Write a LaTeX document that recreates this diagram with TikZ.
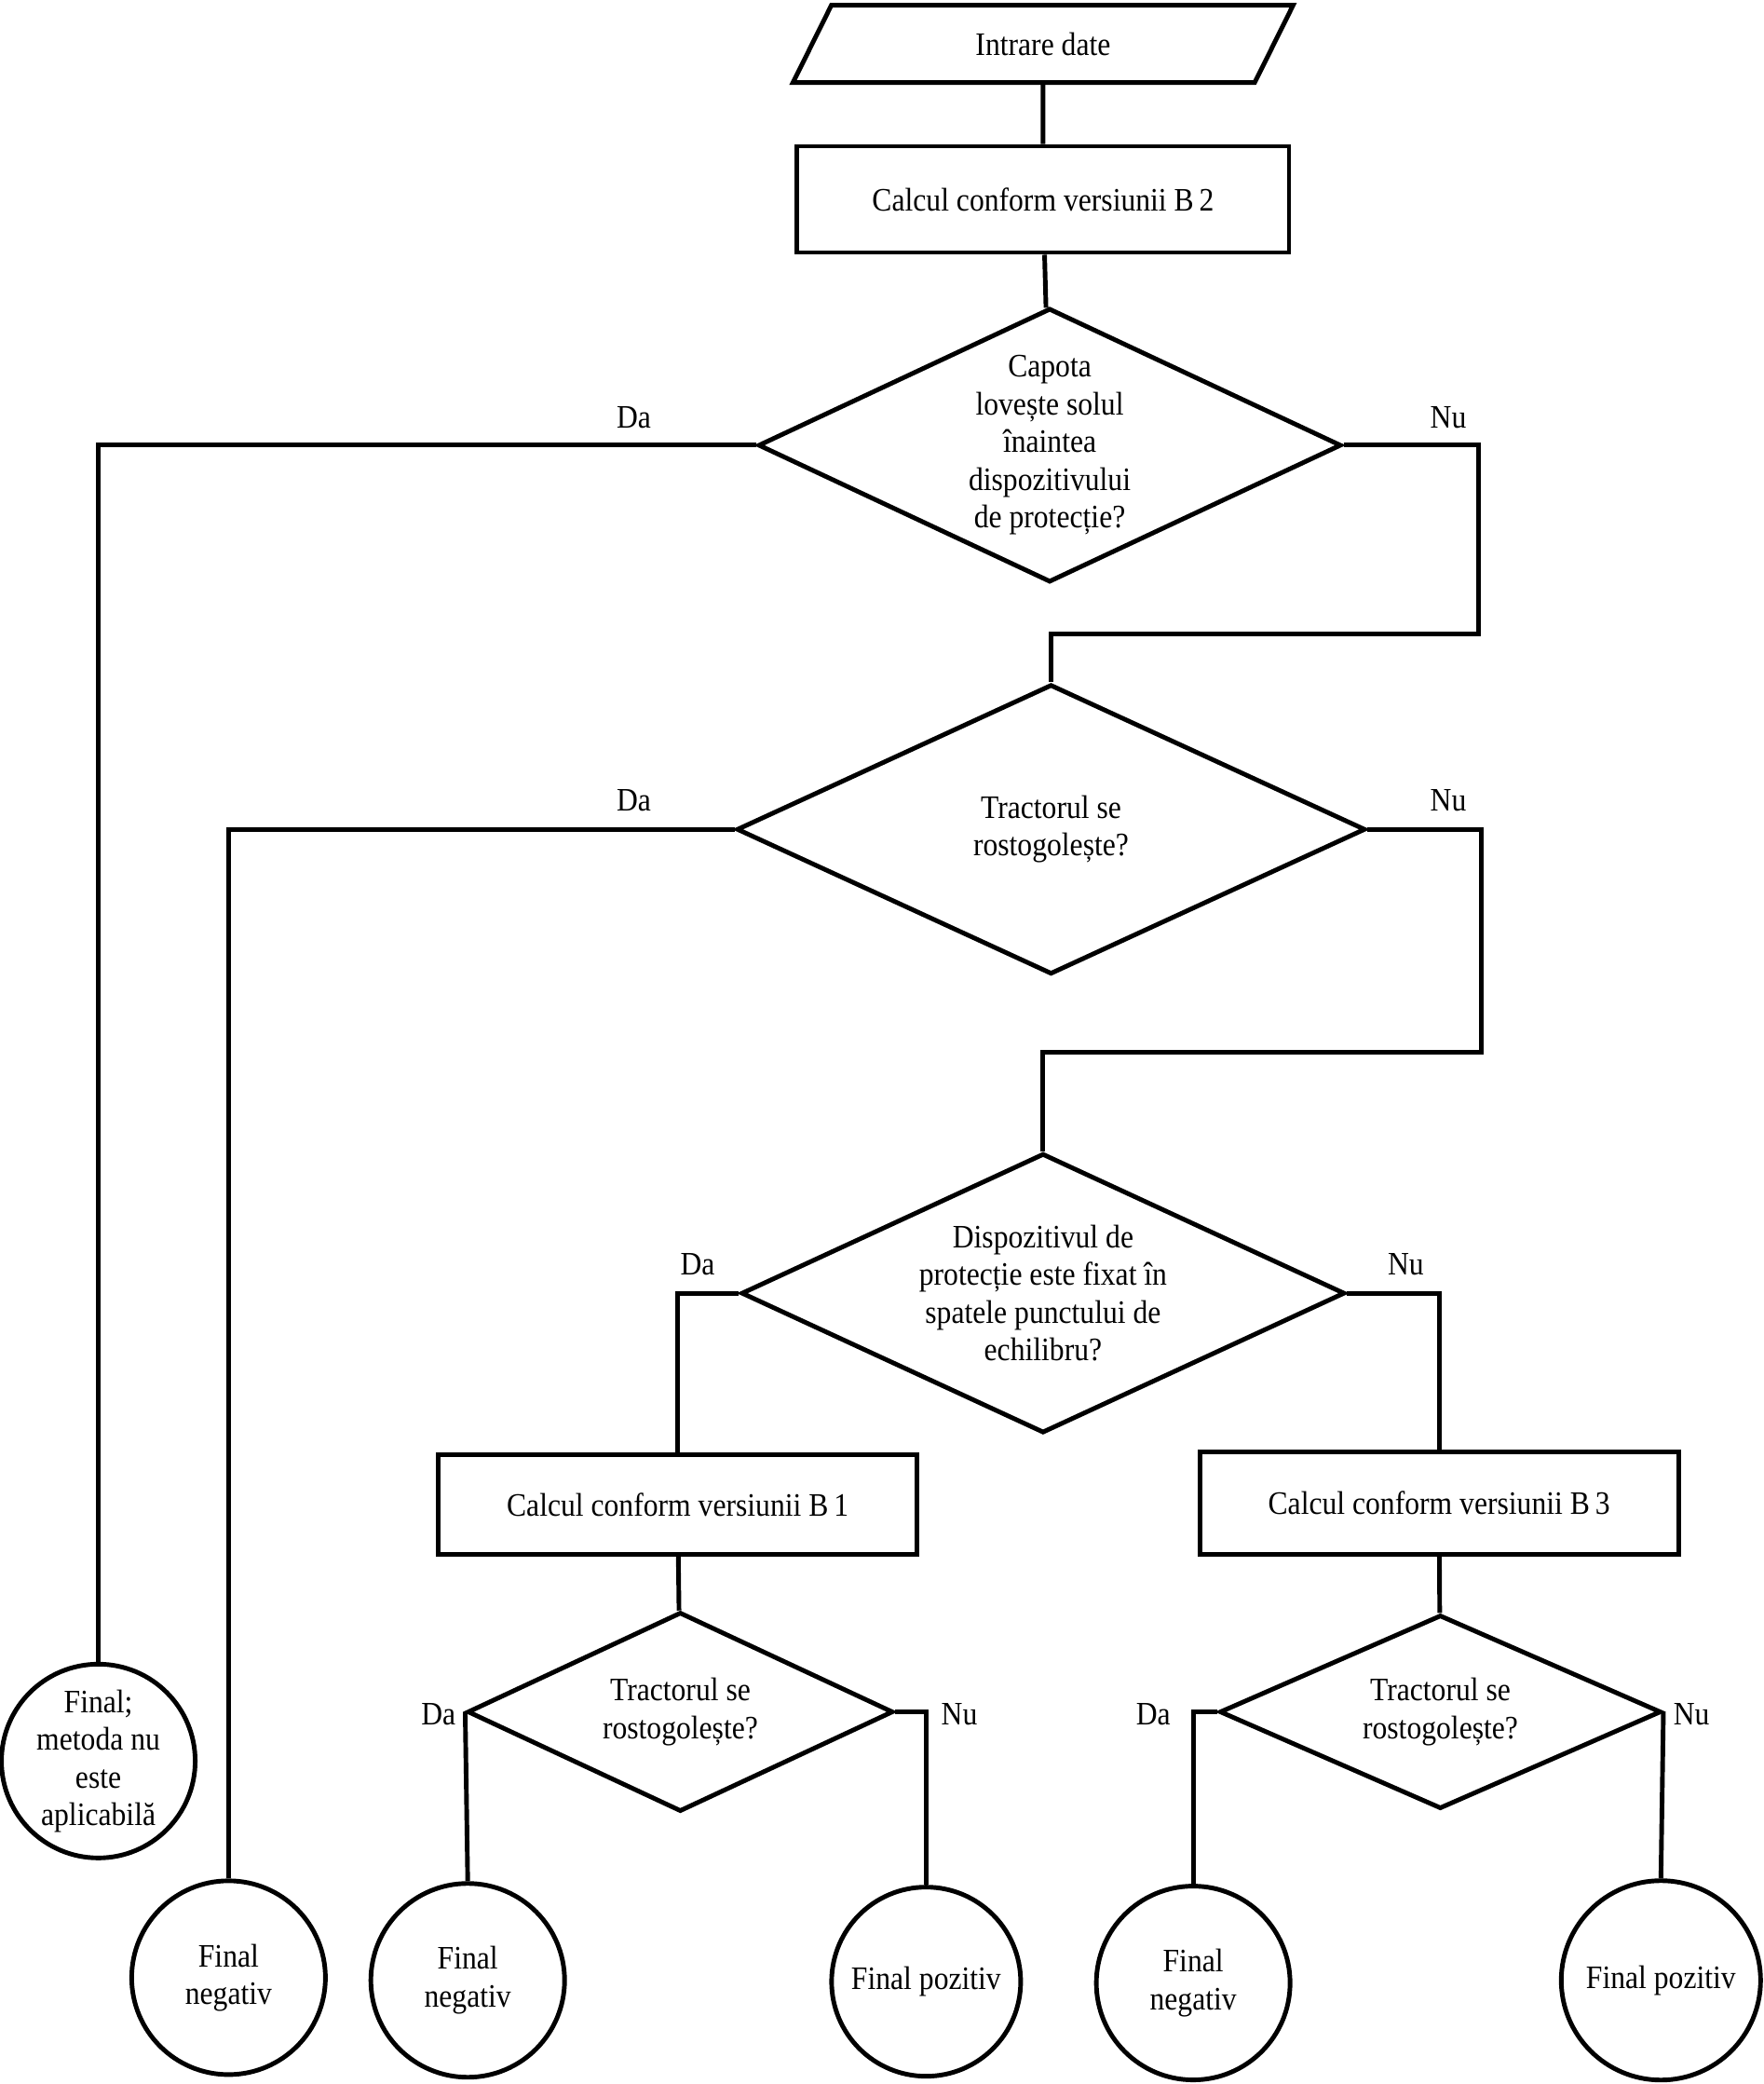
\documentclass[tikz,border=0pt]{standalone}
\usepackage{fontspec}
\setmainfont{Liberation Serif}[FakeStretch=0.9]
\usetikzlibrary{shapes.geometric}

\tikzset{
  flowbase/.style={draw, line width=1.4pt, align=center, inner sep=0pt,
    font=\fontsize{10}{11.5}\selectfont},
  inbox/.style={flowbase, trapezium, trapezium left angle=62,
    trapezium right angle=118, trapezium stretches,
    minimum width=5.38cm, minimum height=0.83cm},
  calcbox/.style={flowbase, rectangle, minimum width=5.14cm, minimum height=1.1cm},
  ask/.style={flowbase, diamond, shape aspect=2},
  finalnode/.style={flowbase, circle, minimum size=2.08cm},
  answer/.style={font=\fontsize{10}{11.5}\selectfont},
  wire/.style={line width=1.4pt}
}

\begin{document}
\begin{tikzpicture}[x=0.14266mm,y=-0.14266mm]
\useasboundingbox (0,0) rectangle (1327,1568);

% top of the chart
\node[inbox] (in) at (785,33) {Intrare date};
\node[calcbox, minimum width=5.28cm, minimum height=1.14cm] (b2) at (785,150) {Calcul conform versiunii B\,2};
\node[ask, minimum width=6.26cm, minimum height=2.94cm] (q1) at (790,335)
  {Capota\\lovește solul\\înaintea\\dispozitivului\\de protecție?};
\node[ask, minimum width=6.75cm, minimum height=3.11cm] (q2) at (791,624)
  {Tractorul se\\rostogolește?};
\node[ask, minimum width=6.48cm, minimum height=3.0cm] (q3) at (785,973)
  {Dispozitivul de\\protecție este fixat în\\spatele punctului de\\echilibru?};

% the two versions
\node[calcbox, minimum height=1.07cm] (b1) at (510,1132) {Calcul conform versiunii B\,1};
\node[calcbox] (b3) at (1083,1131) {Calcul conform versiunii B\,3};
\node[ask, minimum width=4.57cm, minimum height=2.14cm] (q4) at (512,1288)
  {Tractorul se\\rostogolește?};
\node[ask, minimum width=4.74cm, minimum height=2.08cm] (q5) at (1084,1288)
  {Tractorul se\\rostogolește?};

% ends
\node[finalnode] (e1) at (74,1325) {Final;\\metoda nu\\este\\aplicabilă};
\node[finalnode] (e2) at (172,1488) {Final\\negativ};
\node[finalnode] (e3) at (352,1490) {Final\\negativ};
\node[finalnode, minimum size=2.03cm] (e4) at (697,1491) {Final pozitiv};
\node[finalnode] (e5) at (898,1492) {Final\\negativ};
\node[finalnode, minimum size=2.14cm] (e6) at (1250,1490) {Final pozitiv};

% bends of the Nu branches
\coordinate (nu1) at (1113,477);
\coordinate (nu2) at (1115,792);

% answers
\node[answer] (da1) at (477,314) {Da};
\node[answer] (nu1t) at (1090,314) {Nu};
\node[answer] (da2) at (477,602) {Da};
\node[answer] (nu2t) at (1090,602) {Nu};
\node[answer] (da3) at (525,951) {Da};
\node[answer] (nu3t) at (1058,951) {Nu};
\node[answer] (da4) at (330,1290) {Da};
\node[answer] (nu4t) at (722,1290) {Nu};
\node[answer] (da5) at (868,1290) {Da};
\node[answer] (nu5t) at (1273,1290) {Nu};

% connectors
\draw[wire] (in) -- (b2);
\draw[wire] (b2) -- (q1);
\draw[wire] (q1.west) -| (e1.north);
\draw[wire] (q1.east) -| (nu1) -| (q2.north);
\draw[wire] (q2.west) -| (e2.north);
\draw[wire] (q2.east) -| (nu2) -| (q3.north);
\draw[wire] (q3.west) -| (b1.north);
\draw[wire] (q3.east) -| (b3.north);
\draw[wire] (b1) -- (q4);
\draw[wire] (b3) -- (q5);
\draw[wire] (q4.west) -- (e3.north);
\draw[wire] (q4.east) -| (e4.north);
\draw[wire] (q5.west) -| (e5.north);
\draw[wire] (q5.east) -- (e6.north);
\end{tikzpicture}
\end{document}
